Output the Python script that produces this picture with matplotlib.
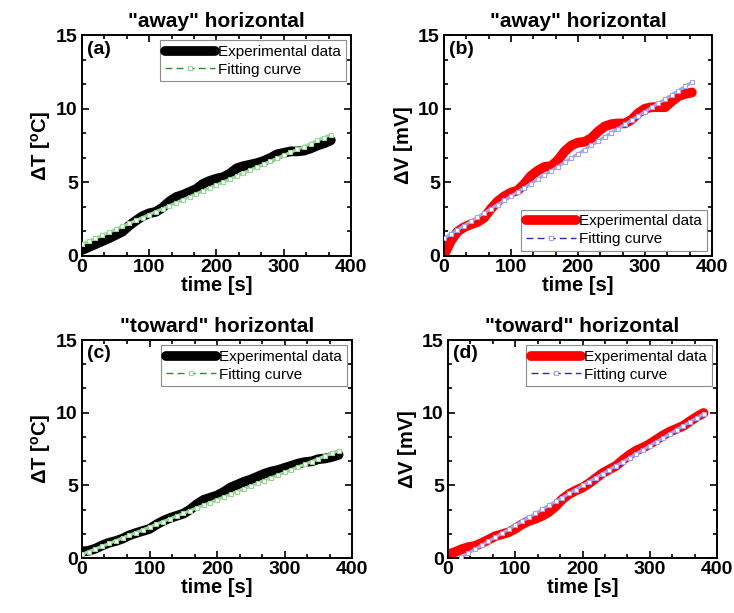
import numpy as np
import matplotlib
matplotlib.use("Agg")
import matplotlib.pyplot as plt
from matplotlib.ticker import MultipleLocator, AutoMinorLocator

plt.rcParams["font.family"] = ["Liberation Sans", "DejaVu Sans"]
plt.rcParams["font.weight"] = "bold"
plt.rcParams["mathtext.fontset"] = "custom"
plt.rcParams["mathtext.bf"] = "Liberation Sans:bold"
plt.rcParams["mathtext.rm"] = "Liberation Sans:bold"
plt.rcParams["mathtext.default"] = "bf"

# sample times [s]
t_away = [0, 10, 20, 30, 40, 50, 60, 70, 80, 90, 100, 110, 120, 130, 140, 150, 160, 170, 180,
          190, 200, 210, 220, 230, 240, 250, 260, 270, 280, 290, 300, 310, 320, 330, 340, 350,
          360, 370]
t_toward = [0, 10, 20, 30, 40, 50, 60, 70, 80, 90, 100, 110, 120, 130, 140, 150, 160, 170, 180,
            190, 200, 210, 220, 230, 240, 250, 260, 270, 280, 290, 300, 310, 320, 330, 340, 350,
            360, 370, 380]

# (a) away, temperature
dT_away = [0.40, 0.60, 0.80, 1.00, 1.20, 1.42, 1.65, 2.05, 2.40, 2.70, 2.90, 3.00, 3.30, 3.70,
           4.00, 4.15, 4.35, 4.55, 4.90, 5.10, 5.25, 5.35, 5.60, 5.95, 6.10, 6.20, 6.30, 6.45,
           6.65, 6.90, 7.00, 7.10, 7.10, 7.15, 7.30, 7.50, 7.65, 7.85]
dT_away_fit = [0.80, 1.00, 1.20, 1.40, 1.60, 1.81, 2.01, 2.21, 2.41, 2.61, 2.81, 3.01, 3.21, 3.41,
               3.61, 3.82, 4.02, 4.22, 4.42, 4.62, 4.82, 5.02, 5.22, 5.42, 5.62, 5.83, 6.03, 6.23,
               6.43, 6.63, 6.83, 7.03, 7.23, 7.43, 7.63, 7.84, 8.04, 8.24]

# (b) away, voltage
dV_away = [0.05, 1.00, 1.65, 1.95, 2.15, 2.30, 2.60, 3.20, 3.70, 4.05, 4.30, 4.45, 4.90, 5.45,
           5.80, 6.05, 6.10, 6.50, 7.10, 7.50, 7.70, 7.75, 8.00, 8.45, 8.80, 8.95, 9.00, 9.00,
           9.25, 9.70, 10.00, 10.10, 10.10, 10.10, 10.50, 10.85, 11.00, 11.10]
dV_away_fit = [1.20, 1.49, 1.77, 2.06, 2.35, 2.63, 2.92, 3.21, 3.49, 3.78, 4.06, 4.35, 4.64, 4.92,
               5.21, 5.50, 5.78, 6.07, 6.36, 6.64, 6.93, 7.22, 7.50, 7.79, 8.08, 8.36, 8.65, 8.94,
               9.22, 9.51, 9.79, 10.08, 10.37, 10.65, 10.94, 11.23, 11.51, 11.80]

# (c) toward, temperature
dT_toward = [0.45, 0.50, 0.65, 0.87, 1.05, 1.17, 1.33, 1.56, 1.72, 1.86, 2.00, 2.30, 2.55, 2.75,
             2.90, 3.05, 3.33, 3.70, 4.00, 4.15, 4.30, 4.55, 4.85, 5.05, 5.25, 5.40, 5.60, 5.80,
             5.95, 6.05, 6.20, 6.35, 6.50, 6.60, 6.65, 6.80, 6.85, 6.95, 7.10]
dT_toward_fit = [0.25, 0.44, 0.63, 0.81, 1.00, 1.19, 1.38, 1.57, 1.75, 1.94, 2.13, 2.32, 2.51,
                 2.69, 2.88, 3.07, 3.26, 3.45, 3.63, 3.82, 4.01, 4.20, 4.39, 4.57, 4.76, 4.95,
                 5.14, 5.33, 5.51, 5.70, 5.89, 6.08, 6.27, 6.45, 6.64, 6.83, 7.02, 7.21, 7.39]

# (d) toward, voltage
dV_toward = [0.25, 0.40, 0.60, 0.75, 0.83, 1.03, 1.26, 1.50, 1.63, 1.77, 2.02, 2.32, 2.55, 2.70,
             2.90, 3.17, 3.56, 4.05, 4.40, 4.65, 4.85, 5.15, 5.50, 5.85, 6.10, 6.35, 6.75, 7.10,
             7.40, 7.60, 7.85, 8.15, 8.45, 8.70, 8.90, 9.10, 9.42, 9.72, 9.98]
t_toward_fit = [20, 30, 40, 50, 60, 70, 80, 90, 100, 110, 120, 130, 140, 150, 160, 170, 180, 190,
                200, 210, 220, 230, 240, 250, 260, 270, 280, 290, 300, 310, 320, 330, 340, 350,
                360, 370, 380]
dV_toward_fit = [0.05, 0.33, 0.60, 0.88, 1.15, 1.42, 1.70, 1.97, 2.25, 2.52, 2.79, 3.07, 3.34,
                 3.62, 3.89, 4.16, 4.44, 4.71, 4.99, 5.26, 5.53, 5.81, 6.08, 6.36, 6.63, 6.90,
                 7.18, 7.45, 7.73, 8.00, 8.27, 8.55, 8.82, 9.10, 9.37, 9.64, 9.92]

GREEN_LINE, GREEN_MK = "#2e8b2e", "#9ad89a"
BLUE_LINE, BLUE_MK = "#2b2bb0", "#a4a4f0"

panels = [
    # rect, label, title, ylabel, t, exp, exp color, t_fit, fit, fit colors, legend loc
    ([0.1117, 0.5824, 0.3665, 0.3605], "(a)", '"away" horizontal', r"$\Delta$T [$^{o}$C]",
     t_away, dT_away, "black", t_away, dT_away_fit, (GREEN_LINE, GREEN_MK), "upper right"),
    ([0.6049, 0.5824, 0.3651, 0.3605], "(b)", '"away" horizontal', r"$\Delta$V [mV]",
     t_away, dV_away, "red", t_away, dV_away_fit, (BLUE_LINE, BLUE_MK), "lower right"),
    ([0.1117, 0.0897, 0.3680, 0.3556], "(c)", '"toward" horizontal', r"$\Delta$T [$^{o}$C]",
     t_toward, dT_toward, "black", t_toward, dT_toward_fit, (GREEN_LINE, GREEN_MK), "upper right"),
    ([0.6104, 0.0897, 0.3665, 0.3556], "(d)", '"toward" horizontal', r"$\Delta$V [mV]",
     t_toward, dV_toward, "red", t_toward_fit, dV_toward_fit, (BLUE_LINE, BLUE_MK), "upper right"),
]

fig = plt.figure(figsize=(7.34, 6.13), dpi=100)

for rect, lab, title, ylab, t, y, col, tf, yf, (lc, mc), loc in panels:
    ax = fig.add_axes(rect)
    ax.plot(t, y, color=col, lw=7, solid_capstyle="round", solid_joinstyle="round",
            label="Experimental data", zorder=2)
    ax.plot(tf, yf, ls="-", color=mc, lw=2.2, zorder=2.5)
    ax.plot(tf, yf, ls="none", marker="s", ms=2.6, mfc="white", mec=mc, mew=0.8, zorder=3)
    # legend proxy for the fit
    ax.plot([], [], ls=(0, (5, 3)), color=lc, lw=1.0, marker="s", ms=2.8, mfc="white",
            mec=mc, mew=0.8, label="Fitting curve")
    ax.set_xlim(0, 400); ax.set_ylim(0, 15)
    ax.xaxis.set_major_locator(MultipleLocator(100))
    ax.yaxis.set_major_locator(MultipleLocator(5))
    ax.xaxis.set_minor_locator(AutoMinorLocator(3))
    ax.yaxis.set_minor_locator(AutoMinorLocator(3))
    ax.tick_params(which="both", direction="in", top=True, right=True, width=1.2)
    ax.tick_params(which="major", length=5, labelsize=14, pad=2)
    ax.tick_params(which="minor", length=3)
    ax.tick_params(axis="y", pad=3)
    for s in ax.spines.values():
        s.set_linewidth(1.4)
    ax.set_xlabel("time [s]", fontsize=14.5, fontweight="bold", labelpad=0)
    ax.set_ylabel(ylab, fontsize=14.5, fontweight="bold", labelpad=2)
    ax.set_title(title, fontsize=15, fontweight="bold", pad=6)
    ax.text(0.02, 0.975, lab, transform=ax.transAxes, ha="left", va="top",
            fontsize=14, fontweight="bold")
    leg = ax.legend(loc=loc, fancybox=False, edgecolor="0.55", framealpha=1,
                    numpoints=1, handlelength=3.3, handletextpad=0.2, borderpad=0.3,
                    labelspacing=0.25, borderaxespad=0.35, prop={"weight": "normal", "size": 11})
    leg.get_frame().set_linewidth(0.8)

fig.savefig("out.png", dpi=100)
